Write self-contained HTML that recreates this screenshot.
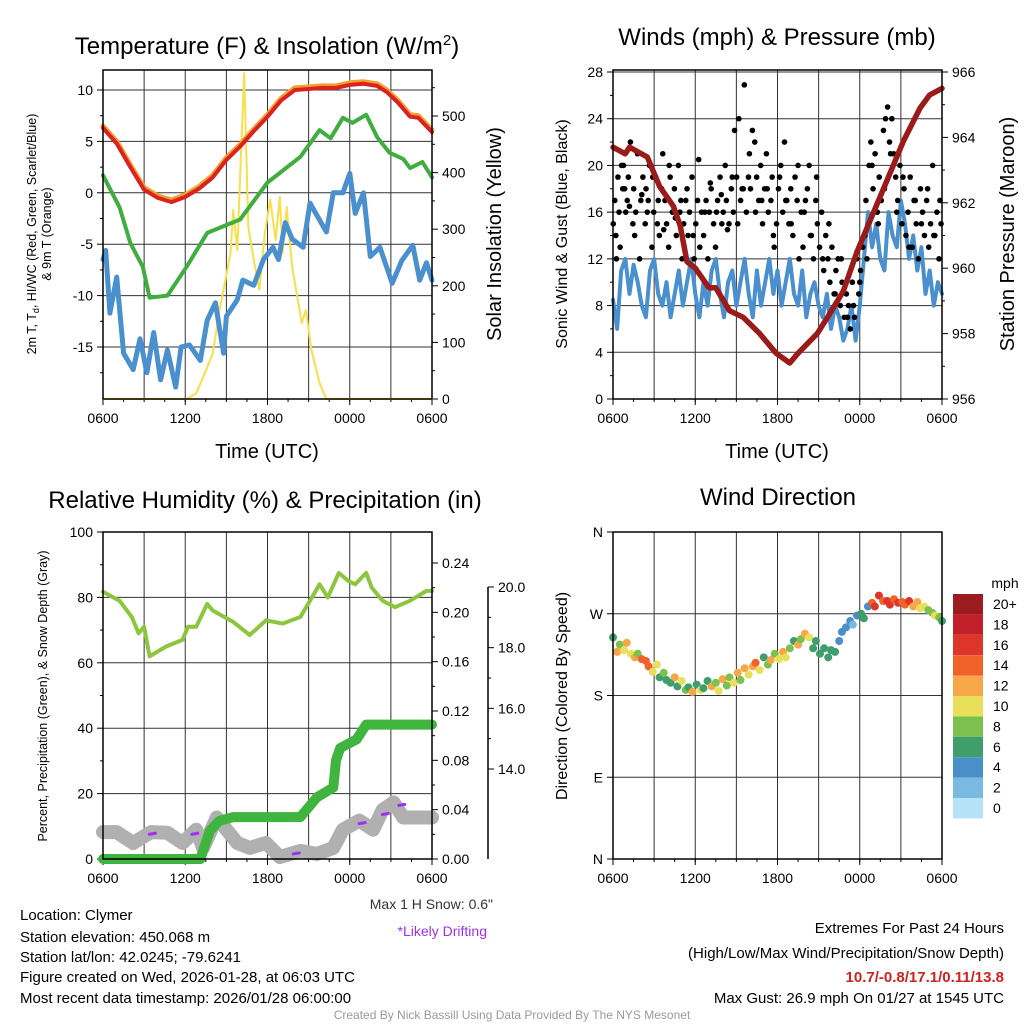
<!DOCTYPE html>
<html><head><meta charset="utf-8"><style>
body{margin:0;background:#fff;}
svg{display:block;font-family:"Liberation Sans",sans-serif;}
</style></head><body>
<svg id="c" width="1024" height="1024" viewBox="0 0 1024 1024"></svg>
<script>
// ---- Data ----
const xTickLabels=["0600","1200","1800","0000","0600"];
const tempH=[0,1,2,3,4,5,6,7,8,9,10,11,12,13,14,15,16,17,18,19,20,20.7,21.5,22.4,23,24];
const tempRed=[6.3,4.8,2.5,0.3,-0.5,-0.9,-0.4,0.4,1.5,3.2,4.5,6,7.4,9,10,10.1,10.2,10.2,10.5,10.6,10.4,9.8,8.8,7.4,7.3,5.9];
const dewH=[0,1.2,2,2.9,3.4,4.7,6.1,7.6,10,12,14.4,15.8,16.6,17.5,18.2,19.2,20,20.9,21.9,22.4,23.3,24];
const dewGreen=[1.7,-1.4,-4.9,-7.2,-10.2,-10,-7.2,-3.9,-2.6,1,3.5,6.1,5.3,7.3,6.8,7.6,5.4,3.9,3.3,2.4,3,1.5];
const wcH=[0,0.2,0.5,1,1.5,2.2,2.7,3.2,3.7,4.2,4.7,5.3,5.7,6.3,7.1,7.6,8.2,8.8,9,9.8,10.2,11,11.7,12.4,12.8,13.3,13.8,14.6,15.1,15.6,16.3,16.8,17.5,18,18.4,19,19.5,20.2,21.1,21.8,22.6,23.1,23.6,24];
const wcBlue=[-6.5,-5.6,-11.7,-8.2,-15.6,-17.2,-14.2,-17.5,-13.6,-18.2,-15.3,-18.9,-15,-14.8,-16.3,-12.4,-10.7,-15.6,-12,-10.4,-8.5,-9,-6.5,-5.3,-6.5,-2.9,-4.5,-5.3,-1,-2.2,-3.8,0,0,1.9,-2,0,-6.2,-5.3,-8.8,-6.6,-5.1,-8.5,-6.8,-8.5];
const solH=[0,6.1,6.8,7.5,8,8.5,8.8,9.3,9.5,9.8,10,10.3,10.6,11,11.4,11.8,12.2,12.6,12.9,13.1,13.4,13.8,14.5,14.8,15.2,15.8,16.3,24];
const solY=[0,0,10,50,80,157,193,258,334,263,392,576,304,246,193,293,352,281,357,258,339,233,134,157,87,28,0,0];
const windH=[0,0.3,0.6,0.9,1.2,1.5,1.8,2.1,2.4,2.7,3,3.3,3.6,3.9,4.2,4.5,4.8,5.1,5.4,5.7,6,6.3,6.6,6.9,7.2,7.5,7.8,8.1,8.4,8.7,9,9.3,9.6,9.9,10.2,10.5,10.8,11.1,11.4,11.7,12,12.3,12.6,12.9,13.2,13.5,13.8,14.1,14.4,14.7,15,15.3,15.6,15.9,16.2,16.5,16.8,17.1,17.4,17.7,18,18.3,18.6,18.9,19.2,19.5,19.8,20.1,20.4,20.7,21,21.3,21.6,21.9,22.2,22.5,22.8,23.1,23.4,23.7,24];
const windBlue=[8.5,6,11,12,9,11.5,10,8,7,11,12,9,8,10,7,9,11,8,10,12,9,7,10,8,11,12,9,7,10,11,8,10,12,9,7,11,8,10,12,9,11,8,10,12,9,8,11,7,9,10,8,7,9,6,8,7,5,6,8,5,8,12,16,13,15,12,11,16,14,13,17,15,12,14,11,13,9,11,8,10,9];
const gustH=[0.02,0.13,0.21,0.36,0.44,0.52,0.71,0.77,0.93,1.04,
1.12,1.27,1.45,1.51,1.66,1.79,1.94,2.03,2.18,2.35,
2.41,2.57,2.66,2.84,2.97,3.12,3.24,3.38,3.55,3.63,
3.79,3.91,4.06,4.17,4.33,4.48,4.62,4.77,4.88,5.04,
5.16,5.31,5.47,5.58,5.76,5.92,6.04,6.17,6.33,6.46,
6.61,6.79,6.92,7.03,7.16,7.34,7.48,7.63,7.81,7.94,
8.04,8.19,8.27,8.46,8.63,8.78,8.87,9.02,9.18,9.31,
9.42,9.58,9.73,9.88,10.03,10.17,10.34,10.48,10.63,10.77,
10.91,11.06,11.19,11.33,11.52,11.61,11.76,11.93,12.07,12.24,
12.38,12.51,12.68,12.83,12.97,13.12,13.28,13.43,13.57,13.73,
13.86,14.04,14.18,14.31,14.47,14.62,14.79,14.91,15.07,15.22,
15.37,15.52,15.68,15.82,15.97,16.13,16.26,16.42,16.58,16.71,
16.87,17.02,17.18,17.31,17.46,17.62,17.77,17.93,18.06,18.22,
18.37,18.53,18.68,18.81,18.97,19.12,19.28,19.42,19.57,19.73,
19.88,20.03,20.17,20.34,20.48,20.62,20.77,20.93,21.08,21.23,
21.37,21.52,21.68,21.83,21.96,22.12,22.27,22.43,22.58,22.72,
22.88,23.03,23.17,23.32,23.48,23.63,23.78,23.93];
const gustVal=[15,17,14,19,16,13,18,20,16,17,
19,22,15,18,16,21,12,17,19,15,
18,17,20,13,16,19,15,14,18,21,
17,15,13,19,16,18,14,20,16,12,
15,17,14,16,19,12,15,17,13,16,
14,17,12,16,18,15,13,17,19,15,
16,20,17,15,18,16,23,19,24,17,
18,26.9,16,19,18,23,22,19,17,20,
15,18,21,16,17,19,13,15,18,20,
16,22,17,15,18,14,19,17,12,16,
13,17,18,20,14,12,17,15,13,16,
11,14,12,10,13,9,11,12,8,10,
7,9,8,6,10,7,12,9,11,13,
14,12,20,22,18,21,16,19,17,23,
24,25,22,24,21,19,17,20,15,18,
14,16,19,13,17,15,12,18,16,14,
17,13,15,20,14,16,12,15];
const gust2H=[0.25,0.62,0.85,1.2,1.58,2.1,2.5,2.9,3.3,3.7,4.1,4.55,4.95,5.4,5.85,6.25,6.7,7.1,7.55,7.9,8.35,8.7,9.1,9.5,9.95,10.4,10.85,11.25,11.7,12.15,12.6,13.0,13.5,13.95,14.4,14.85,15.3,15.75,16.2,16.65,17.1,17.55,18.0,18.45,18.9,19.35,19.8,20.25,20.7,21.15,21.6,22.05,22.5,22.95,23.4,23.85];
const gust2Val=[12,20,18,16.5,14,17.5,16,19,17,14.5,20,15.5,17,18,14,20.5,16,18.5,16,17.5,14.5,19,15,18,21,16,17,18,14,19,17,15,20,16,14,19,12,15,9,12,7,8,10,17,20,15,18,21,16,19,13,17,15,18,14,17];
const presH=[0,0.9,1.2,2.5,3.4,4.4,4.9,5.4,6,7,7.5,8.5,9.5,10.7,11.9,12.9,13.5,14.9,15.8,16.8,17.8,18.8,20,21.2,22.4,23.1,24];
const presVal=[963.7,963.5,963.7,963.4,962.5,961.9,961.3,960.2,960,959.4,959.4,958.7,958.5,958,957.4,957.1,957.4,958,958.6,959.3,960.5,961.5,962.7,963.9,964.9,965.3,965.5];
const dirH=[0,0.3,0.5,0.8,1,1.3,1.6,1.8,2.1,2.4,2.6,2.9,3.2,3.4,3.7,3.9,4.2,4.5,4.7,5,5.3,5.5,5.8,6.1,6.4,6.6,6.9,7.2,7.5,7.7,8,8.3,8.5,8.8,9.1,9.3,9.6,9.9,10.2,10.4,10.7,11,11.3,11.5,11.8,12.1,12.4,12.6,12.9,13.2,13.5,13.7,14,14.3,14.6,14.8,15.1,15.4,15.7,15.9,16.2,16.5,16.7,17,17.3,17.5,17.8,18.1,18.3,18.6,18.9,19.1,19.4,19.7,20,20.2,20.5,20.8,21.1,21.3,21.6,21.9,22.2,22.4,22.7,23,23.3,23.5,23.8,24];
const dirDeg=[244,228,236,230,238,226,222,226,220,218,212,206,214,200,205,197,194,200,190,196,186,189,184,192,186,188,196,190,194,185,198,191,200,194,205,197,210,203,212,216,208,222,214,219,226,220,228,222,232,240,236,242,248,244,232,240,226,232,222,230,228,240,250,255,262,258,268,270,265,278,282,278,290,284,284,280,286,282,283,280,284,278,283,276,278,274,271,268,266,262];
const dirSpd=[7,12,9,11,12,10,13,8,15,14,15,11,10,7,9,7,6,12,7,10,9,6,12,7,10,6,7,13,9,11,12,8,9,11,12,9,13,10,12,14,11,7,9,12,8,11,13,10,9,7,12,8,13,11,7,6,7,6,7,6,7,5,4,5,4,3,4,6,7,5,15,16,17,15,16,17,15,16,14,15,16,12,13,10,11,9,8,10,8,6];
const rhH=[0,1.2,2.1,2.6,3,3.4,4.6,5.8,6.2,6.8,7.6,8,9.5,10.7,11.9,13.1,14.4,15.8,16.4,17.2,17.9,18.4,19.2,19.6,20.4,21.3,22.4,23.6,24];
const rhVal=[81.7,79,74,69,71,62,65,67,71,71,78,76,72.5,68.5,73,72,74,84,80,87.5,85,84,87.5,83,79,77,79,82,82];
const prH=[0,7.1,7.8,8.5,9.5,14.4,15.6,16.8,17,17.3,18.5,19.2,24];
const prVal=[0,0,0.023,0.031,0.034,0.034,0.05,0.058,0.08,0.09,0.097,0.109,0.109];
const snH=[0,1,2.2,3.5,4.7,5.8,6.8,7.3,8.3,9.8,10.7,11.9,12.9,14.4,15.6,16.8,17.5,18.7,19.7,20.4,21.2,21.9,23,24];
const snVal=[11.92,11.92,11.56,11.92,11.9,11.56,12.0,11.4,12.4,11.56,11.4,11.56,11.1,11.3,11.2,11.4,12.0,12.3,12.0,12.65,12.9,12.4,12.4,12.4];
const driftH=[3.6,6.7,14.1,18.9,20.6,21.8];
const driftV=[11.85,11.85,11.2,12.2,12.5,12.8];
const cbLabels=["20+","18","16","14","12","10","8","6","4","2","0"];
const cbColors=["#9b1b1e","#c0202a","#dd3529","#f0622a","#f7a648","#e8e05a","#7cc04e","#3f9e6b","#4a8fc7","#7ab9e2","#b5e2f7"];
// ---- Helpers ----
const S=document.getElementById('c');const NS="http://www.w3.org/2000/svg";
function el(t,a,p){const e=document.createElementNS(NS,t);for(const k in a)e.setAttribute(k,a[k]);(p||S).appendChild(e);return e;}
function txt(x,y,s,size,anchor,extra){const e=el('text',Object.assign({x:x,y:y,'font-size':size,'text-anchor':anchor||'middle',fill:'#000'},extra||{}));e.textContent=s;return e;}
function mkX(x0,x1){return h=>x0+h*(x1-x0)/24;}
function mkY(y0,y1,v0,v1){return v=>y0+(v-v0)*(y1-y0)/(v1-v0);}
function line(xs,ys,fx,fy,col,w,name){const d=xs.map((h,i)=>(i?'L':'M')+fx(h).toFixed(1)+','+fy(ys[i]).toFixed(1)).join('');const p=el('path',{d:d,fill:'none',stroke:col,'stroke-width':w,'stroke-linejoin':'round','stroke-linecap':'round'});


return p;}
function frame(x0,y0,x1,y1,name){const r=el('rect',{x:x0,y:y0,width:x1-x0,height:y1-y0,fill:'none',stroke:'#000','stroke-width':1.5});

}
function xAxis(x0,x1,yb,fx){xTickLabels.forEach((l,i)=>{const x=fx(i*6);el('line',{x1:x,y1:yb,x2:x,y2:yb+6,stroke:'#000'});const t=txt(x,yb+24,l,14);

});
for(let h=0;h<=24;h+=1.5){el('line',{x1:fx(h),y1:yb,x2:fx(h),y2:yb+3,stroke:'#000'});}}
function vgrid(fx,yt,yb){for(let i=1;i<8;i++){el('line',{x1:fx(i*3),y1:yt,x2:fx(i*3),y2:yb,stroke:'#333','stroke-width':1});}}
function yTicks(vals,fy,x,side,labels,x0,x1,grid,minor){vals.forEach((v,i)=>{const y=fy(v);if(grid)el('line',{x1:x0,y1:y,x2:x1,y2:y,stroke:'#333'});el('line',{x1:x,y1:y,x2:x+side*6,y2:y,stroke:'#000'});const t=txt(x+side*10,y+5,labels[i],14,side<0?'end':'start');

});
(minor||[]).forEach(v=>{el('line',{x1:x,y1:fy(v),x2:x+side*3,y2:fy(v),stroke:'#000'});});}
function title(x,y,s,name){const t=txt(x,y,s,24);return t;}

// ---- Panel 1 ----
{const fx=mkX(103,432),fy=mkY(90,347,10,-15),fr=mkY(399,116,0,500);
vgrid(fx,70,399);
yTicks([10,5,0,-5,-10,-15],fy,103,-1,["10","5","0","-5","-10","-15"],103,432,true,[7.5,2.5,-2.5,-7.5,-12.5,-17.5]);
yTicks([0,100,200,300,400,500],fr,432,1,["0","100","200","300","400","500"],0,0,false,[50,150,250,350,450,550]);
xAxis(103,432,399,fx);
line(solH,solY,fx,fr,'#f7e04b',2,'solar-insolation-line');
line(wcH,wcBlue,fx,fy,'#4a90cf',5,'wind-chill-line');
line(dewH,dewGreen,fx,fy,'#3fae3f',4,'dewpoint-line');
line(tempH,tempRed.map(v=>v+0.2),fx,fy,'#f0a030',5,'temp-9m-line');
line(tempH,tempRed,fx,fy,'#dd2020',4,'temp-2m-line');
frame(103,70,432,399,'temp-plot-frame');
const t=title(267,54,'',24);t.innerHTML='Temperature (F) &amp; Insolation (W/m<tspan dy="-9" font-size="15">2</tspan><tspan dy="9">)</tspan>';
const tx=txt(267,458,'Time (UTC)',20);
const y1=el('text',{transform:'translate(36,234) rotate(-90)','font-size':12.5,'text-anchor':'middle'});y1.innerHTML='2m T, T<tspan dy="3" font-size="9">d</tspan><tspan dy="-3">, HI/WC (Red, Green, Scarlet/Blue)</tspan>';

const y1b=txt(0,0,'& 9m T (Orange)',12.5);y1b.setAttribute('transform','translate(51,234) rotate(-90)');
const yr=txt(0,0,'Solar Insolation (Yellow)',20);yr.setAttribute('transform','translate(501,234) rotate(-90)');}

// ---- Panel 2 ----
{const fx=mkX(613,942),fy=mkY(399,72,0,28),fr=mkY(399,72,956,966);
vgrid(fx,70,399);
yTicks([0,4,8,12,16,20,24,28],fy,613,-1,["0","4","8","12","16","20","24","28"],613,942,true,[2,6,10,14,18,22,26]);
yTicks([956,958,960,962,964,966],fr,942,1,["956","958","960","962","964","966"],0,0,false,[957,959,961,963,965]);
xAxis(613,942,399,fx);
line(windH,windBlue,fx,fy,'#4a90cf',4,'sonic-wind-line');
gustH.forEach((h,i)=>{const c=el('circle',{cx:fx(h),cy:fy(gustVal[i]),r:2.8,fill:'#000'});

});
gust2H.forEach((h,i)=>{const c=el('circle',{cx:fx(h),cy:fy(gust2Val[i]),r:2.8,fill:'#000'});

});
line(presH,presVal,fx,fr,'#9b1a1a',5.5,'pressure-line');
frame(613,70,942,399,'wind-plot-frame');
title(777,45,'Winds (mph) & Pressure (mb)','wind-title');
const tx=txt(777,458,'Time (UTC)',20);
const yl=txt(0,0,'Sonic Wind & Gust (Blue, Black)',16);yl.setAttribute('transform','translate(567,234) rotate(-90)');
const yr=txt(0,0,'Station Pressure (Maroon)',20);yr.setAttribute('transform','translate(1014,234) rotate(-90)');}

// ---- Panel 3 ----
{const fx=mkX(103,432),fy=mkY(859,532,0,100),fp=mkY(859,563,0,0.24),fs=mkY(769,587,14,20);
vgrid(fx,532,859);
yTicks([0,20,40,60,80,100],fy,103,-1,["0","20","40","60","80","100"],103,432,true,[10,30,50,70,90]);
yTicks([0,0.04,0.08,0.12,0.16,0.20,0.24],fp,432,1,["0.00","0.04","0.08","0.12","0.16","0.20","0.24"],0,0,false,[0.02,0.06,0.10,0.14,0.18,0.22]);
el('line',{x1:488,y1:587,x2:488,y2:859,stroke:'#000','stroke-width':1.5});
yTicks([14,16,18,20],fs,488,1,["14.0","16.0","18.0","20.0"],0,0,false,[15,17,19]);
xAxis(103,432,859,fx);
line(snH,snVal,fx,fs,'#b0b0b0',14,'snow-depth-line');
driftH.forEach((h,i)=>{const p=el('line',{x1:fx(h)-3,y1:fs(driftV[i]),x2:fx(h)+3,y2:fs(driftV[i])-1,stroke:'#a030f0','stroke-width':3,'stroke-linecap':'round'});});
line(rhH,rhVal,fx,fy,'#8cc63f',4,'rh-line');
line(prH,prVal,fx,fp,'#3fb43f',10,'precip-line');
frame(103,532,432,859,'rh-plot-frame');
title(265,508,'Relative Humidity (%) & Precipitation (in)','rh-title');
const yl=txt(0,0,'Percent, Precipitation (Green), & Snow Depth (Gray)',12.5);yl.setAttribute('transform','translate(47,696) rotate(-90)');
const s1=txt(493,909,'Max 1 H Snow: 0.6"',14,'end',{fill:'#333'});
const s2=txt(487,936,'*Likely Drifting',14,'end',{fill:'#a030f0'});}

// ---- Panel 4 ----
{const fx=mkX(613,942),fy=mkY(859,532,0,360);
vgrid(fx,532,859);
yTicks([0,90,180,270,360],fy,613,-1,["N","E","S","W","N"],613,942,true,[]);
xAxis(613,942,859,fx);
function spdColor(s){const i=Math.max(0,Math.min(10,10-Math.floor(s/2)));return cbColors[i];}
dirH.forEach((h,i)=>{const c=el('circle',{cx:fx(h),cy:fy(dirDeg[i]),r:4,fill:spdColor(dirSpd[i])});

});
frame(613,532,942,859,'direction-plot-frame');
title(778,505,'Wind Direction','direction-title');
const yl=txt(0,0,'Direction (Colored By Speed)',16);yl.setAttribute('transform','translate(567,696) rotate(-90)');
const u=txt(1005,588,'mph',14);
cbLabels.forEach((l,i)=>{const y=594+i*20.4;const r=el('rect',{x:953,y:y,width:30,height:20.4,fill:cbColors[i]});


const t=txt(993,y+15,l,14,'start');});}

// ---- Footer ----
[["Location: Clymer",920],["Station elevation: 450.068 m",942],["Station lat/lon: 42.0245; -79.6241",962],["Figure created on Wed, 2026-01-28, at 06:03 UTC",982],["Most recent data timestamp: 2026/01/28 06:00:00",1003]].forEach(a=>{const t=txt(20,a[1],a[0],15,'start');});
[["Extremes For Past 24 Hours",933,'#000','normal'],["(High/Low/Max Wind/Precipitation/Snow Depth)",958,'#000','normal'],["10.7/-0.8/17.1/0.11/13.8",982,'#d02020','bold'],["Max Gust: 26.9 mph On 01/27 at 1545 UTC",1003,'#000','normal']].forEach(a=>{const t=txt(1004,a[1],a[0],15,'end',{fill:a[2],'font-weight':a[3]});});
const cr=txt(512,1019,'Created By Nick Bassill Using Data Provided By The NYS Mesonet',12,'middle',{fill:'#999'});
</script>
</body></html>
